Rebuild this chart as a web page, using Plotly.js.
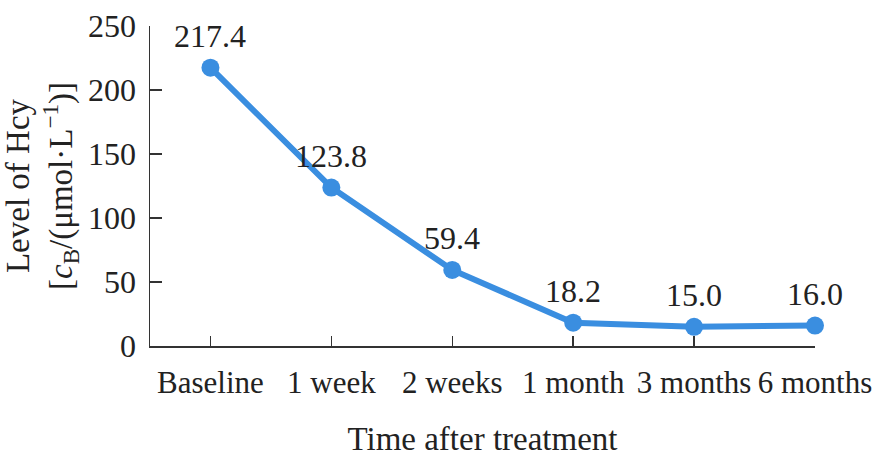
<!DOCTYPE html>
<html>
<head>
<meta charset="utf-8">
<script src="https://cdn.plot.ly/plotly-3.0.1.min.js"></script>
<style>html,body{margin:0;padding:0;background:#fff;}#chart{width:885px;height:466px;}</style>
</head>
<body>
<div id="chart"></div>
<script>
const categories = ["Baseline", "1 week", "2 weeks", "1 month", "3 months", "6 months"];
const hcyLevels = [217.4, 123.8, 59.4, 18.2, 15.0, 16.0];
const valueLabels = ["217.4", "123.8", "59.4", "18.2", "15.0", "16.0"];
const yTicks = [0, 50, 100, 150, 200, 250];

const FONT = "Liberation Serif, Times New Roman, serif";
const BLUE = "#3a8ee0";
const TXT = "#222";
const FS = 32;

const trace = {
  x: categories,
  y: hcyLevels,
  type: "scatter",
  mode: "lines+markers",
  line: {color: BLUE, width: 6},
  marker: {color: BLUE, size: 18},
  cliponaxis: false,
  hoverinfo: "skip"
};

const annotations = categories.map((c, i) => ({
  x: c, y: hcyLevels[i], xref: "x", yref: "y",
  text: valueLabels[i], showarrow: false,
  yanchor: "bottom", yshift: 12,
  font: {family: FONT, size: FS, color: TXT}
}));

const layout = {
  width: 885, height: 466,
  margin: {l: 150, r: 70, t: 26, b: 120},
  paper_bgcolor: "#fff", plot_bgcolor: "#fff",
  showlegend: false,
  font: {family: FONT, size: FS, color: TXT},
  xaxis: {
    type: "category",
    range: [-0.5, 5],
    showgrid: false, zeroline: false,
    showline: true, linecolor: "#333", linewidth: 1.5,
    ticks: "inside", ticklen: 10, tickwidth: 1.5, tickcolor: "#333",
    ticklabelstandoff: 8,
    tickfont: {family: FONT, size: 31, color: TXT},
    title: {text: "Time after treatment", font: {family: FONT, size: 33, color: TXT}, standoff: 28}
  },
  yaxis: {
    range: [0, 250],
    tickvals: yTicks,
    showgrid: false, zeroline: false,
    showline: true, linecolor: "#333", linewidth: 1.5,
    ticks: "inside", ticklen: 12, tickwidth: 1.5, tickcolor: "#333",
    ticklabelstandoff: 6,
    tickfont: {family: FONT, size: FS, color: TXT},
    title: {text: "Level of Hcy<br>[<i>c</i><sub>B</sub>/(μmol·L<sup>−1</sup>)]", font: {family: FONT, size: 33, color: TXT}, standoff: 8}
  },
  annotations: annotations
};

Plotly.newPlot("chart", [trace], layout, {staticPlot: true, displayModeBar: false});
</script>
</body>
</html>
